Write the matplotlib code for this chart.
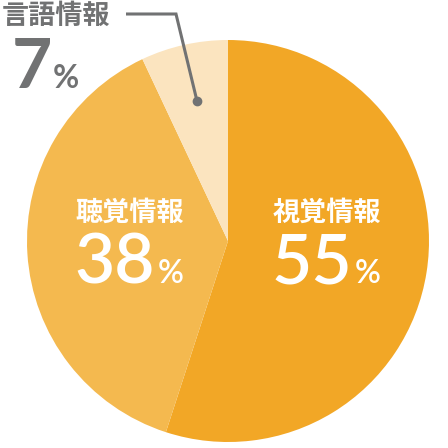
import matplotlib.pyplot as plt

labels = ["視覚情報", "聴覚情報", "言語情報"]
values = [55, 38, 7]
colors = ["#f2a726", "#f4b94f", "#fbe4bf"]

W = 448
H = 448

fig = plt.figure(figsize=(4.48, 4.48), dpi=100)
ax = fig.add_axes([0, 0, 1, 1])

# pie centre and radius in pixel coords (y up)
cx, cy, r = 228, H - 241, 201
ax.pie(values, colors=colors, startangle=90, counterclock=False,
       center=(cx, cy), radius=r, wedgeprops=dict(linewidth=0),
       frame=True)
ax.set_xlim(0, W)
ax.set_ylim(0, H)
ax.set_aspect("equal")
ax.axis("off")

jp = ["Noto Sans CJK JP", "DejaVu Sans"]
num = ["Lato", "DejaVu Sans"]
gray = "#717273"
lsize = 19.5

# labels inside the slices
ax.text(327, H - 213, labels[0], family=jp, fontsize=lsize, fontweight="bold",
        color="white", ha="center", va="center")
ax.text(352, H - 283, str(values[0]), family=num, fontsize=50,
        fontweight="semibold", color="white", ha="right", va="baseline")
ax.text(355, H - 283, "%", family=num, fontsize=23,
        fontweight="semibold", color="white", ha="left", va="baseline")

ax.text(130, H - 213, labels[1], family=jp, fontsize=lsize, fontweight="bold",
        color="white", ha="center", va="center")
ax.text(155, H - 283, str(values[1]), family=num, fontsize=50,
        fontweight="semibold", color="white", ha="right", va="baseline")
ax.text(158, H - 283, "%", family=num, fontsize=23,
        fontweight="semibold", color="white", ha="left", va="baseline")

# outside label for the small slice
ax.text(2, H - 16, labels[2], family=jp, fontsize=lsize, fontweight="bold",
        color=gray, ha="left", va="center")
ax.text(52, H - 88, str(values[2]), family=num, fontsize=50,
        fontweight="bold", color=gray, ha="right", va="baseline")
ax.text(53, H - 88, "%", family=num, fontsize=23,
        fontweight="bold", color=gray, ha="left", va="baseline")

# leader line
ax.plot([126, 176, 197], [H - 14, H - 14, H - 101], color=gray, lw=2.2,
        solid_capstyle="butt", solid_joinstyle="miter")
ax.plot([197], [H - 101], "o", color=gray, markersize=6)

fig.savefig("out.png", dpi=100)
